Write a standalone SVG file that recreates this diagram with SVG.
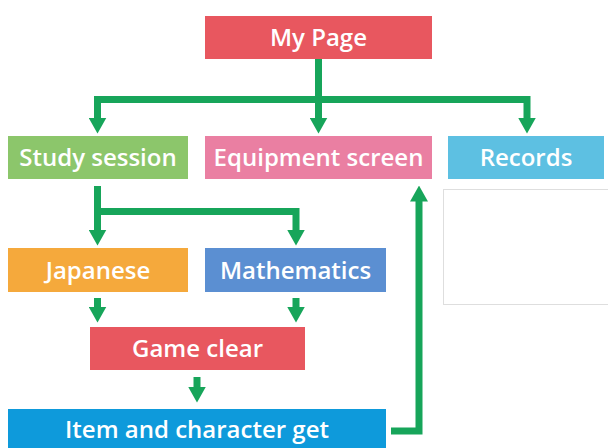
<svg xmlns="http://www.w3.org/2000/svg" width="608" height="448" viewBox="0 0 608 448">
<style>
  .box { stroke: none; }
  .lbl { font-family: "Open Sans", "Liberation Sans", sans-serif; font-size: 24px; font-weight: 600; fill: #ffffff; text-anchor: middle; }
  .conn { fill: none; stroke: #17A55A; stroke-width: 7; stroke-linejoin: miter; stroke-linecap: butt; }
</style>
<defs>
  <marker id="ah" viewBox="0 -9 16 18" markerWidth="16" markerHeight="18" refX="0.5" refY="0" markerUnits="userSpaceOnUse" orient="auto">
    <path d="M0,-9 L16,0 L0,9 z" fill="#17A55A"/>
  </marker>
</defs>
<rect width="608" height="448" fill="#ffffff"/>
<rect x="443.5" y="189.5" width="170" height="115" fill="#ffffff" stroke="#dedede" stroke-width="1"/>

<g id="connectors">
  <path class="conn" d="M318.5,59 V118" marker-end="url(#ah)"/>
  <path class="conn" d="M318.5,99.5 H97.5 V118" marker-end="url(#ah)"/>
  <path class="conn" d="M318.5,99.5 H527 V118" marker-end="url(#ah)"/>
  <path class="conn" d="M97.5,186 V230" marker-end="url(#ah)"/>
  <path class="conn" d="M97.5,211.5 H296 V230" marker-end="url(#ah)"/>
  <path class="conn" d="M97.5,298 V307" marker-end="url(#ah)"/>
  <path class="conn" d="M296,298 V307" marker-end="url(#ah)"/>
  <path class="conn" d="M197,377 V387" marker-end="url(#ah)"/>
  <path class="conn" d="M391,431 H419 V201" marker-end="url(#ah)"/>
</g>

<g id="mypage">
  <rect class="box" x="205" y="16" width="227" height="43" fill="#E8575F"/>
  <text class="lbl" x="318.5" y="46">My Page</text>
</g>
<g id="study">
  <rect class="box" x="8" y="136" width="180" height="43" fill="#8CC66B"/>
  <text class="lbl" x="98" y="166">Study session</text>
</g>
<g id="equipment">
  <rect class="box" x="205" y="136" width="227" height="43" fill="#EA7FA2"/>
  <text class="lbl" x="318.5" y="166">Equipment screen</text>
</g>
<g id="records">
  <rect class="box" x="448" y="136" width="156" height="43" fill="#5DC0E2"/>
  <text class="lbl" x="526" y="166">Records</text>
</g>
<g id="japanese">
  <rect class="box" x="8" y="248" width="180" height="44" fill="#F5A93C"/>
  <text class="lbl" x="98" y="279">Japanese</text>
</g>
<g id="mathematics">
  <rect class="box" x="205" y="248" width="181" height="44" fill="#5B8FD2"/>
  <text class="lbl" x="295.5" y="279">Mathematics</text>
</g>
<g id="gameclear">
  <rect class="box" x="90" y="327" width="215" height="43" fill="#E8575F"/>
  <text class="lbl" x="197.5" y="357">Game clear</text>
</g>
<g id="item">
  <rect class="box" x="8" y="409" width="378" height="45" fill="#0E9ADB"/>
  <text class="lbl" x="197" y="438">Item and character get</text>
</g>
</svg>
